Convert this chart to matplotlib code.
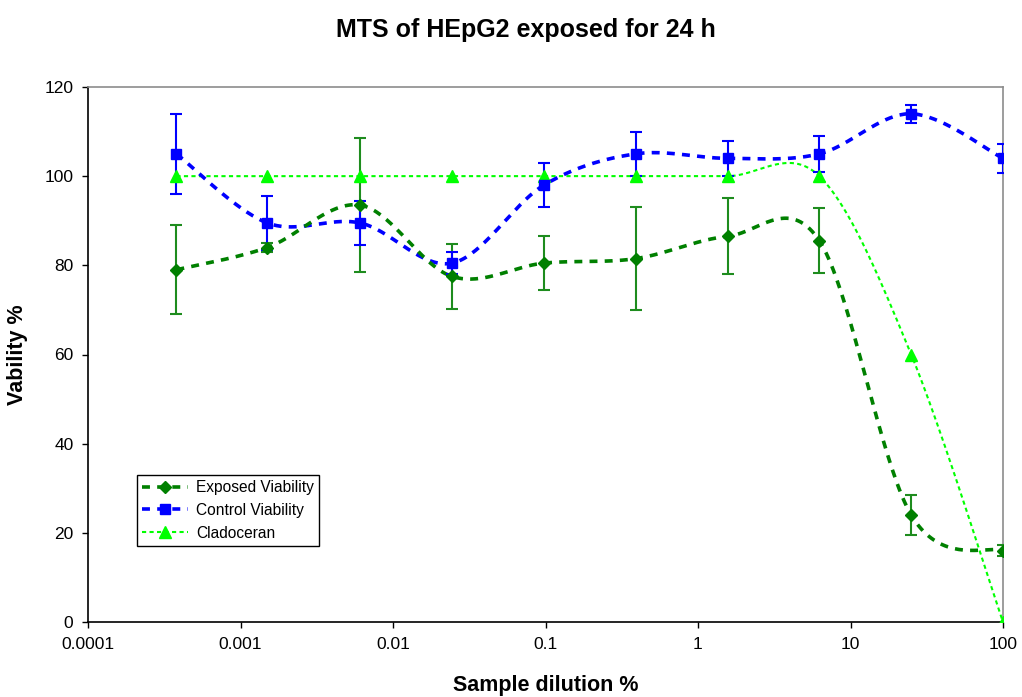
import numpy as np
import matplotlib
matplotlib.use("Agg")
import matplotlib.pyplot as plt
from matplotlib.lines import Line2D

plt.rcParams['font.family'] = ['Liberation Sans', 'DejaVu Sans']

# Sample dilution series (% of sample), fourfold steps
dilution = [0.00038, 0.0015, 0.0061, 0.0244, 0.0977, 0.39, 1.5625, 6.25, 25, 100]

exposed = [79, 84, 93.5, 77.5, 80.5, 81.5, 86.5, 85.5, 24, 16]
exposed_err = [10, 1, 15, 7.3, 6, 11.5, 8.5, 7.3, 4.5, 1.2]

control = [105, 89.5, 89.5, 80.5, 98, 105, 104, 105, 114, 104]
control_err = [9, 6, 5, 2.5, 5, 5, 4, 4, 2, 3.3]

cladoceran = [100, 100, 100, 100, 100, 100, 100, 100, 60, 0]

x_ticks = [0.0001, 0.001, 0.01, 0.1, 1, 10, 100]
x_tick_labels = ['0.0001', '0.001', '0.01', '0.1', '1', '10', '100']
y_ticks = [0, 20, 40, 60, 80, 100, 120]


def smooth(xs, ys, n=40):
    """Catmull-Rom spline through the points, in log10(x) space."""
    lx = np.log10(np.asarray(xs, float))
    y = np.asarray(ys, float)
    P = np.column_stack([lx, y])
    P = np.vstack([P[0], P, P[-1]])
    out = []
    for i in range(1, len(P) - 2):
        p0, p1, p2, p3 = P[i - 1], P[i], P[i + 1], P[i + 2]
        m1 = (p2 - p0) / 2.0
        m2 = (p3 - p1) / 2.0
        t = np.linspace(0, 1, n)[:, None]
        h00 = 2 * t**3 - 3 * t**2 + 1
        h10 = t**3 - 2 * t**2 + t
        h01 = -2 * t**3 + 3 * t**2
        h11 = t**3 - t**2
        seg = h00 * p1 + h10 * m1 + h01 * p2 + h11 * m2
        out.append(seg if i == 1 else seg[1:])
    s = np.vstack(out)
    return 10 ** s[:, 0], s[:, 1]


fig = plt.figure(figsize=(10.22, 6.97), dpi=100)
ax = fig.add_axes([88 / 1022, 75 / 697, 915 / 1022, 535 / 697])

c_exp = '#008000'
c_exp_err = '#1e8c1e'
c_ctl = '#0000ff'
c_cla = '#00ff00'

# error bars
ax.errorbar(dilution, exposed, yerr=exposed_err, fmt='none', ecolor=c_exp_err,
            elinewidth=1.5, capsize=4, capthick=1.5, zorder=3)
ax.errorbar(dilution, control, yerr=control_err, fmt='none', ecolor=c_ctl,
            elinewidth=1.5, capsize=4, capthick=1.5, zorder=3)

# smoothed lines
sx, sy = smooth(dilution, cladoceran)
ax.plot(sx, sy, color=c_cla, lw=1.5, dashes=(2.0, 1.6), zorder=2)
sx, sy = smooth(dilution, control)
ax.plot(sx, sy, color=c_ctl, lw=2.6, dashes=(2.2, 2.0), zorder=2)
sx, sy = smooth(dilution, exposed)
ax.plot(sx, sy, color=c_exp, lw=2.6, dashes=(2.2, 2.0), zorder=2)

# markers
ax.plot(dilution, cladoceran, ls='none', marker='^', ms=8, color=c_cla, mec=c_cla, zorder=4)
ax.plot(dilution, control, ls='none', marker='s', ms=7, color=c_ctl, mec=c_ctl, zorder=4)
ax.plot(dilution, exposed, ls='none', marker='D', ms=6, color=c_exp, mec=c_exp, zorder=5)

ax.set_xscale('log')
ax.set_xlim(0.0001, 100)
ax.set_ylim(0, 120)
ax.set_xticks(x_ticks)
ax.set_xticklabels(x_tick_labels)
ax.xaxis.set_minor_locator(matplotlib.ticker.NullLocator())
ax.set_yticks(y_ticks)
ax.tick_params(axis='both', direction='out', length=4.5, width=1, labelsize=12.5)
ax.tick_params(axis='y', pad=6)
ax.tick_params(axis='x', pad=6)

for side in ('left', 'bottom'):
    ax.spines[side].set_color('black')
    ax.spines[side].set_linewidth(1.2)
for side in ('top', 'right'):
    ax.spines[side].set_color('#8c8c8c')
    ax.spines[side].set_linewidth(1.2)

ax.set_xlabel('Sample dilution %', fontsize=15.5, fontweight='bold', labelpad=17)
ax.set_ylabel('Vability %', fontsize=15.5, fontweight='bold', labelpad=12)
fig.text(526 / 1022, 1 - 30 / 697, 'MTS of HEpG2 exposed for 24 h', ha='center', va='center',
         fontsize=18, fontweight='bold')

handles = [
    Line2D([], [], color=c_exp, lw=2.6, dashes=(2.2, 2.0), marker='D', ms=6),
    Line2D([], [], color=c_ctl, lw=2.6, dashes=(2.2, 2.0), marker='s', ms=7),
    Line2D([], [], color=c_cla, lw=1.5, dashes=(2.0, 1.6), marker='^', ms=8),
]
leg = ax.legend(handles, ['Exposed Viability', 'Control Viability', 'Cladoceran'],
                loc='lower left', bbox_to_anchor=(49 / 915, 76 / 535), borderaxespad=0,
                fontsize=11.2, numpoints=1, handlelength=2.9, handletextpad=0.55,
                labelspacing=0.5, borderpad=0.35, fancybox=False, framealpha=1,
                edgecolor='black')
leg.get_frame().set_linewidth(1.0)

fig.savefig('out.png', dpi=100)
